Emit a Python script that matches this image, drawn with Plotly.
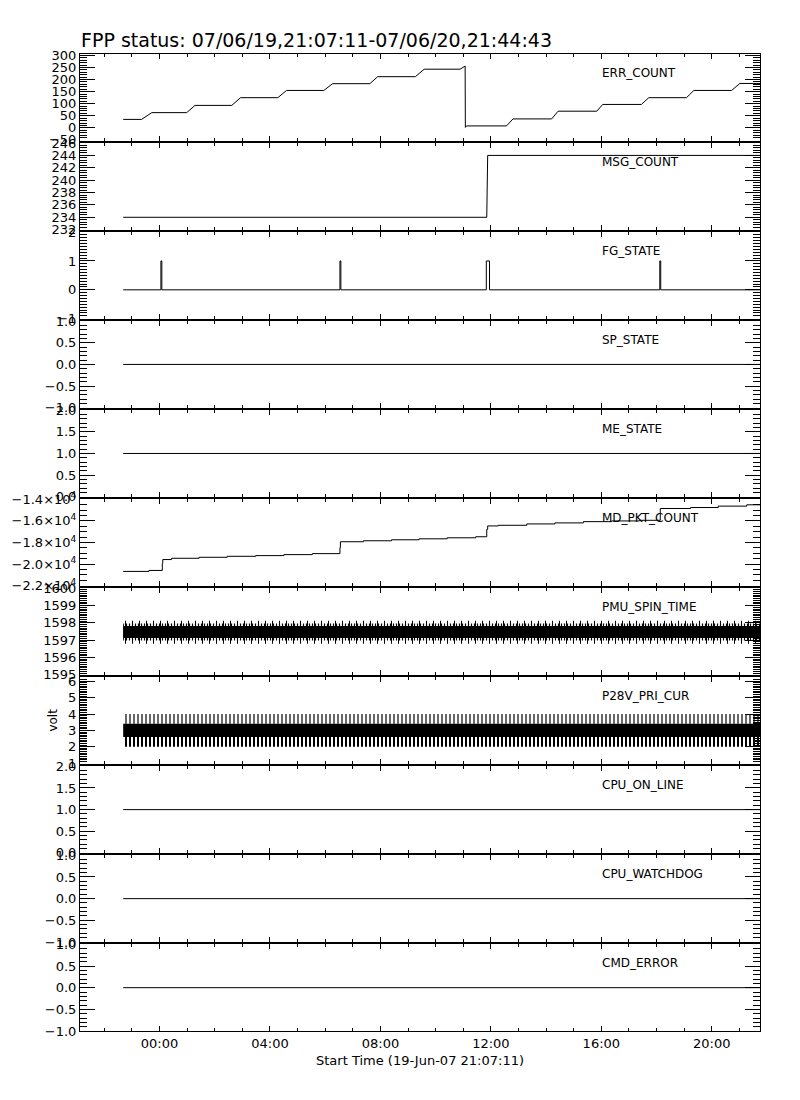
import plotly.graph_objects as go
from plotly.subplots import make_subplots

# ---------------- data ----------------
T_START = "2007-06-19 21:07:11"
T_END = "2007-06-20 21:44:43"

PANEL_NAMES = ["ERR_COUNT", "MSG_COUNT", "FG_STATE", "SP_STATE", "ME_STATE",
               "MD_PKT_COUNT", "PMU_SPIN_TIME", "P28V_PRI_CUR", "CPU_ON_LINE",
               "CPU_WATCHDOG", "CMD_ERROR"]

ERR_TIME = ["2007-06-19 22:41", "2007-06-19 23:21", "2007-06-19 23:43",
            "2007-06-20 00:59", "2007-06-20 01:17", "2007-06-20 02:37", "2007-06-20 02:56",
            "2007-06-20 04:17", "2007-06-20 04:36", "2007-06-20 05:57", "2007-06-20 06:16",
            "2007-06-20 07:37", "2007-06-20 07:54", "2007-06-20 09:16", "2007-06-20 09:35",
            "2007-06-20 10:53", "2007-06-20 11:04", "2007-06-20 11:04:30", "2007-06-20 11:07",
            "2007-06-20 12:34", "2007-06-20 12:48", "2007-06-20 14:12", "2007-06-20 14:26",
            "2007-06-20 15:50", "2007-06-20 16:03", "2007-06-20 17:27", "2007-06-20 17:43",
            "2007-06-20 19:05", "2007-06-20 19:21", "2007-06-20 20:43", "2007-06-20 21:01",
            "2007-06-20 21:44:43"]
ERR_COUNT = [35, 35, 63, 63, 93, 93, 125, 125, 155, 155, 183, 183, 212, 212, 243,
             243, 256, 2, 8, 8, 37, 37, 69, 69, 97, 97, 125, 125, 155, 155, 184, 184]

MSG_TIME = ["2007-06-19 22:41", "2007-06-20 11:51", "2007-06-20 11:53", "2007-06-20 21:44:43"]
MSG_COUNT = [234, 234, 244, 244]

FG_TIME = ["2007-06-19 22:41", "2007-06-20 00:03", "2007-06-20 00:05", "2007-06-20 06:32",
           "2007-06-20 06:34", "2007-06-20 11:50", "2007-06-20 11:57", "2007-06-20 18:07",
           "2007-06-20 18:09", "2007-06-20 21:44:43"]
FG_STATE = [0, 1, 0, 1, 0, 1, 0, 1, 0, 0]

FLAT_TIME = ["2007-06-19 22:41", "2007-06-20 21:44:43"]
SP_STATE = [0, 0]
ME_STATE = [1, 1]
CPU_ON_LINE = [1, 1]
CPU_WATCHDOG = [0, 0]
CMD_ERROR = [0, 0]

MD_TIME = ["2007-06-19 22:41", "2007-06-19 23:37", "2007-06-20 00:06", "2007-06-20 00:07",
           "2007-06-20 00:26", "2007-06-20 01:26", "2007-06-20 02:27", "2007-06-20 03:29",
           "2007-06-20 04:30", "2007-06-20 05:32", "2007-06-20 06:32", "2007-06-20 06:33",
           "2007-06-20 07:23", "2007-06-20 08:24", "2007-06-20 09:24", "2007-06-20 10:25",
           "2007-06-20 11:27", "2007-06-20 11:51", "2007-06-20 11:53", "2007-06-20 12:16",
           "2007-06-20 13:18", "2007-06-20 14:19", "2007-06-20 15:21", "2007-06-20 16:22",
           "2007-06-20 17:23", "2007-06-20 18:08", "2007-06-20 19:14", "2007-06-20 20:14",
           "2007-06-20 21:16", "2007-06-20 21:44:43"]
MD_PKT_COUNT = [-20670, -20580, -19940, -19575, -19456, -19365, -19274, -19210,
                -19118, -19027, -18480, -17930, -17840, -17750, -17660, -17565,
                -17470, -16780, -16470, -16410, -16285, -16190, -16075, -16010,
                -15950, -14860, -14770, -14640, -14520, -14520]

# noisy telemetry: envelopes
PMU_TIME = ["2007-06-19 22:41", "2007-06-20 21:44:43"]
PMU_CORE_LO = [1597.12, 1597.12]
PMU_CORE_HI = [1597.82, 1597.82]
PMU_INNER_LO = [1596.98, 1596.98]
PMU_INNER_HI = [1597.97, 1597.97]
PMU_SPIKE_LO = [1596.8, 1596.8]
PMU_SPIKE_HI = [1598.12, 1598.12]

P28_TIME = ["2007-06-19 22:41", "2007-06-20 21:44:43"]
P28_CORE_LO = [2.6, 2.6]
P28_CORE_HI = [3.4, 3.4]
P28_SPIKE_LO = [2.0, 2.0]
P28_SPIKE_HI = [4.0, 4.0]

MD_TICKVALS = [-22000, -20000, -18000, -16000, -14000]
MD_TICKTEXT = ["\u22122.2\u00d710<sup>4</sup>", "\u22122.0\u00d710<sup>4</sup>",
               "\u22121.8\u00d710<sup>4</sup>", "\u22121.6\u00d710<sup>4</sup>",
               "\u22121.4\u00d710<sup>4</sup>"]

TITLE = "FPP status: 07/06/19,21:07:11-07/06/20,21:44:43"
XTITLE = "Start Time (19-Jun-07 21:07:11)"

# ---------------- figure ----------------
FONT = "DejaVu Sans"
N = 11
# page body has an 8px margin, so the figure is laid out 8px up/left
ML, MR, MT, MB = 72, 48, 46, 77
PLOT_H = 1100 - MT - MB
fig = make_subplots(rows=N, cols=1, shared_xaxes=True, vertical_spacing=2.4 / PLOT_H)


def add_line(row, x, y, shape="linear"):
    fig.add_trace(go.Scatter(x=x, y=y, mode="lines",
                             line=dict(color="black", width=1, shape=shape),
                             showlegend=False, hoverinfo="skip"), row=row, col=1)


def add_band(row, x, lo, hi, solid=True, size=4, solidity=0.3):
    fig.add_trace(go.Scatter(x=x, y=lo, mode="lines", line=dict(width=0, color="black"),
                             showlegend=False, hoverinfo="skip"), row=row, col=1)
    kw = {}
    if solid:
        kw["fillcolor"] = "black"
    else:
        kw["fillcolor"] = "rgba(0,0,0,0)"
        kw["fillpattern"] = dict(shape="|", size=size, solidity=solidity,
                                 fgcolor="black", bgcolor="rgba(0,0,0,0)",
                                 fillmode="replace")
    fig.add_trace(go.Scatter(x=x, y=hi, mode="lines", line=dict(width=0, color="black"),
                             fill="tonexty", showlegend=False, hoverinfo="skip", **kw),
                  row=row, col=1)


add_line(1, ERR_TIME, ERR_COUNT)
add_line(2, MSG_TIME, MSG_COUNT)
add_line(3, FG_TIME, FG_STATE, shape="hv")
add_line(4, FLAT_TIME, SP_STATE)
add_line(5, FLAT_TIME, ME_STATE)
add_line(6, MD_TIME, MD_PKT_COUNT, shape="hv")
add_band(7, PMU_TIME, PMU_SPIKE_LO, PMU_SPIKE_HI, solid=False, size=7, solidity=0.15)
add_band(7, PMU_TIME, PMU_INNER_LO, PMU_INNER_HI, solid=False, size=3, solidity=0.4)
add_band(7, PMU_TIME, PMU_CORE_LO, PMU_CORE_HI)
add_band(8, P28_TIME, P28_SPIKE_LO, P28_CORE_LO, solid=False, size=4, solidity=0.5)
add_band(8, P28_TIME, P28_CORE_HI, P28_SPIKE_HI, solid=False, size=4, solidity=0.3)
add_band(8, P28_TIME, P28_CORE_LO, P28_CORE_HI)
add_line(9, FLAT_TIME, CPU_ON_LINE)
add_line(10, FLAT_TIME, CPU_WATCHDOG)
add_line(11, FLAT_TIME, CMD_ERROR)

fig.update_xaxes(type="date", range=[T_START, T_END], tick0="2007-06-20 00:00",
                 dtick=4 * 3600000, tickformat="%H:%M", ticks="inside", ticklen=5,
                 tickcolor="black", tickwidth=1,
                 minor=dict(dtick=3600000, ticks="inside", ticklen=3, tickcolor="black",
                            showgrid=False),
                 showline=True, linecolor="black", linewidth=1, mirror="ticks",
                 showgrid=False, zeroline=False, automargin=False,
                 tickfont=dict(family=FONT, size=13, color="black"))
fig.update_xaxes(title=dict(text=XTITLE, font=dict(family=FONT, size=13, color="black"),
                            standoff=6), row=N, col=1)

YAX = [
    dict(range=[-53, 306], dtick=50, minor=10, fmt="d"),
    dict(range=[232, 246], dtick=2, minor=0.4, fmt="d"),
    dict(range=[-1, 2], dtick=1, minor=0.1, fmt="d"),
    dict(range=[-1, 1], dtick=0.5, minor=0.1, fmt=".1f"),
    dict(range=[0, 2], dtick=0.5, minor=0.1, fmt=".1f"),
    dict(range=[-22000, -14000], dtick=2000, minor=500, fmt=None),
    dict(range=[1595, 1600], dtick=1, minor=0.1, fmt="d"),
    dict(range=[0.95, 6.25], dtick=1, minor=0.1, fmt="d"),
    dict(range=[0, 2], dtick=0.5, minor=0.1, fmt=".1f"),
    dict(range=[-1, 1], dtick=0.5, minor=0.1, fmt=".1f"),
    dict(range=[-1, 1], dtick=0.5, minor=0.1, fmt=".1f"),
]

for i, ya in enumerate(YAX):
    kw = dict(range=ya["range"], ticks="inside", ticklen=15, tickcolor="black", tickwidth=1,
              minor=dict(dtick=ya["minor"], ticks="inside", ticklen=7, tickcolor="black",
                         showgrid=False),
              showline=True, linecolor="black", linewidth=1, mirror="ticks",
              showgrid=False, zeroline=False, automargin=False,
              tickfont=dict(family=FONT, size=13, color="black"))
    if ya["fmt"] is None:
        kw.update(tickmode="array", tickvals=MD_TICKVALS, ticktext=MD_TICKTEXT)
    else:
        kw.update(tick0=0, dtick=ya["dtick"], tickformat=ya["fmt"])
    fig.update_yaxes(row=i + 1, col=1, **kw)

PLOT_W = 800 - ML - MR
# panel labels
for i, name in enumerate(PANEL_NAMES):
    yname = "yaxis" if i == 0 else f"yaxis{i + 1}"
    top = fig.layout[yname].domain[1]
    fig.add_annotation(text=name, xref="paper", yref="paper", x=520 / PLOT_W, y=top,
                       xanchor="left", yanchor="middle", yshift=-18.5, showarrow=False,
                       font=dict(family=FONT, size=12, color="black"))

# y title for P28V
d8 = fig.layout["yaxis8"].domain
fig.add_annotation(text="volt", xref="paper", yref="paper", x=-27 / PLOT_W,
                   y=(d8[0] + d8[1]) / 2, xanchor="center", yanchor="middle",
                   textangle=-90, showarrow=False,
                   font=dict(family=FONT, size=12, color="black"))

fig.update_layout(
    width=800, height=1100,
    margin=dict(l=ML, r=MR, t=MT, b=MB, autoexpand=False),
    paper_bgcolor="white", plot_bgcolor="white",
    font=dict(family=FONT, size=13, color="black"),
    title=dict(text=TITLE, x=73 / 800, xref="container", xanchor="left",
               y=1 - 32 / 1100, yref="container", yanchor="middle",
               font=dict(family=FONT, size=19, color="black")),
    showlegend=False,
)

fig.write_html("out.html")
